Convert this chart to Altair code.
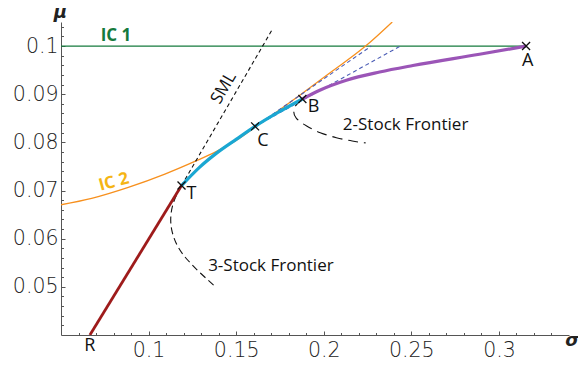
import altair as alt
import pandas as pd

# ---------------- data ----------------
# indifference curve 1 (horizontal)
ic1_sigma = [0.05, 0.3155]
ic1_mu = [0.1, 0.1]
# indifference curve 2
ic2_sigma = [0.05, 0.0675, 0.0884, 0.1093, 0.1264, 0.1388, 0.1502, 0.1608, 0.1863, 0.2034, 0.2239, 0.2391]
ic2_mu = [0.06705, 0.06838, 0.07066, 0.07342, 0.07605, 0.07813, 0.08047, 0.08316, 0.0898, 0.0944, 0.1, 0.105]
# efficient frontier T -> C -> B (cyan)
tcb_sigma = [0.1188, 0.1292, 0.1388, 0.1502, 0.1608, 0.1749, 0.1878]
tcb_mu = [0.07103, 0.07487, 0.07777, 0.08068, 0.08333, 0.08642, 0.08901]
# 2-stock frontier B -> A (purple)
ba_sigma = [0.1878, 0.1977, 0.2129, 0.2319, 0.2509, 0.2889, 0.3155]
ba_mu = [0.08901, 0.09084, 0.09291, 0.09461, 0.09596, 0.0983, 0.1]
# capital market line R -> T
rt_sigma = [0.0665, 0.1188]
rt_mu = [0.04, 0.07103]
# SML
sml_sigma = [0.1188, 0.1707]
sml_mu = [0.07103, 0.1035]
# blue dashed lines from C
blue1_sigma = [0.1608, 0.2271]
blue1_mu = [0.08333, 0.1]
blue2_sigma = [0.1608, 0.2437]
blue2_mu = [0.08333, 0.1]
# lower branches of the frontiers (dashed)
f3_sigma = [0.1188, 0.1144, 0.1124, 0.1127, 0.1161, 0.1217, 0.1292, 0.1388]
f3_mu = [0.07103, 0.06813, 0.06502, 0.06191, 0.05839, 0.05569, 0.05293, 0.04982]
f2_sigma = [0.1878, 0.1834, 0.1826, 0.1834, 0.1901, 0.1977, 0.2072, 0.2166, 0.2239]
f2_mu = [0.08901, 0.08762, 0.08638, 0.08507, 0.08333, 0.08196, 0.08092, 0.08022, 0.07989]

# marked portfolios
pt_sigma = [0.1188, 0.1608, 0.1878, 0.3155]
pt_mu = [0.07103, 0.08333, 0.08901, 0.1]

# point letters
letters = ["T", "C", "B", "A", "R"]
letter_sigma = [0.1245, 0.1652, 0.1942, 0.3164, 0.0665]
letter_mu = [0.06938, 0.08026, 0.08731, 0.09685, 0.03776]

frontier_labels = ["2-Stock Frontier", "3-Stock Frontier"]
frontier_sigma = [0.2109, 0.134]
frontier_mu = [0.08368, 0.0543]

# axis symbols
axis_symbols = ["μ", "σ"]
axis_sym_sigma = [0.0497, 0.3419]
axis_sym_mu = [0.10587, 0.0378]

x_labels = [0.1, 0.15, 0.2, 0.25, 0.3]
y_labels = [0.05, 0.06, 0.07, 0.08, 0.09, 0.1]
x_ticks = [round(0.05 + 0.01 * i, 2) for i in range(1, 29)]
y_ticks = [round(0.04 + 0.002 * i, 3) for i in range(1, 33)]

W, H = 508, 313


def frame(sig, mu):
    return pd.DataFrame({"s": sig, "m": mu, "o": list(range(len(sig)))})


xs = alt.Scale(domain=[0.05, 0.34], nice=False, zero=False)
ys = alt.Scale(domain=[0.04, 0.105], nice=False, zero=False)

LABEL_FONT = "DejaVu Sans"
ANNOT_FONT = "Open Sans"

x_main = alt.Axis(values=x_labels, format="~g", ticks=False, grid=False,
                  domainColor="#555555", domainWidth=1,
                  labelFont=LABEL_FONT, labelFontSize=20.5, labelFontWeight=200,
                  labelColor="#222222",
                  labelPadding=5, labelFlush=False, labelOverlap=False,
                  title=None)
y_main = alt.Axis(values=y_labels, format="~g", ticks=False, grid=False,
                  domainColor="#555555", domainWidth=1,
                  labelFont=LABEL_FONT, labelFontSize=20.5, labelFontWeight=200,
                  labelColor="#222222",
                  labelPadding=3, labelFlush=False, labelOverlap=False,
                  title=None)
x_tick_axis = alt.Axis(orient="top", offset=-H, values=x_ticks, labels=False,
                       domain=False, grid=False, ticks=True,
                       tickColor="#555555", tickWidth=1,
                       tickSize={"condition": {"test": "abs(datum.value*20 - round(datum.value*20)) < 0.001",
                                               "value": 4}, "value": 2.5},
                       title=None)
y_tick_axis = alt.Axis(orient="right", offset=-W, values=y_ticks, labels=False,
                       domain=False, grid=False, ticks=True,
                       tickColor="#555555", tickWidth=1,
                       tickSize={"condition": {"test": "abs(datum.value*100 - round(datum.value*100)) < 0.001",
                                               "value": 4}, "value": 2.5},
                       title=None)


def line(df, color, width, dash=None, interp="linear", xaxis=None, yaxis=None):
    kw = dict(color=color, strokeWidth=width, interpolate=interp, clip=True)
    if dash:
        kw["strokeDash"] = dash
    return alt.Chart(df).mark_line(**kw).encode(
        x=alt.X("s:Q", scale=xs, axis=xaxis),
        y=alt.Y("m:Q", scale=ys, axis=yaxis),
        order=alt.Order("o:Q"),
    )


layers = [
    line(frame(ic1_sigma, ic1_mu), "#157a3c", 1.4, xaxis=x_main, yaxis=y_main),
    line(frame(ic2_sigma, ic2_mu), "#f7901e", 1.3, interp="monotone",
         xaxis=x_tick_axis, yaxis=y_tick_axis),
    line(frame(sml_sigma, sml_mu), "#111111", 1.1, dash=[4, 3]),
    line(frame(blue1_sigma, blue1_mu), "#4a5cb5", 1.1, dash=[4, 3]),
    line(frame(blue2_sigma, blue2_mu), "#4a5cb5", 1.1, dash=[4, 3]),
    line(frame(f3_sigma, f3_mu), "#111111", 1.1, dash=[7, 4], interp="basis"),
    line(frame(f2_sigma, f2_mu), "#111111", 1.1, dash=[10, 6], interp="basis"),
    line(frame(rt_sigma, rt_mu), "#9e1b1b", 2.8),
    line(frame(tcb_sigma, tcb_mu), "#1aa7d2", 3.2, interp="monotone"),
    line(frame(ba_sigma, ba_mu), "#9b55b7", 3.2, interp="monotone"),
]

pts = alt.Chart(frame(pt_sigma, pt_mu)).mark_point(
    shape="M-1,-1L1,1M-1,1L1,-1", size=64, filled=False, stroke="#111111",
    strokeWidth=1.3, opacity=1
).encode(x=alt.X("s:Q", scale=xs, axis=None), y=alt.Y("m:Q", scale=ys, axis=None))


def text_layer(texts, sig, mu, **kw):
    df = pd.DataFrame({"t": texts, "s": sig, "m": mu})
    return alt.Chart(df).mark_text(**kw).encode(
        x=alt.X("s:Q", scale=xs, axis=None),
        y=alt.Y("m:Q", scale=ys, axis=None),
        text="t:N",
    )


letter_layer = text_layer(letters, letter_sigma, letter_mu, font=ANNOT_FONT, fontSize=18,
                          color="#111111", align="center", baseline="middle")
fr_layer = text_layer(frontier_labels, frontier_sigma, frontier_mu, font=ANNOT_FONT,
                      fontSize=17, color="#111111", align="left", baseline="middle")
sml_layer = text_layer(["SML"], [0.1429], [0.0913], font=ANNOT_FONT, fontSize=17,
                       color="#111111", align="center", baseline="middle", angle=300)
ic1_layer = text_layer(["IC 1"], [0.0814], [0.10214], font=ANNOT_FONT, fontSize=17,
                       fontWeight="bold", color="#157a3c", align="center", baseline="middle")
ic2_layer = text_layer(["IC 2"], [0.0802], [0.07176], font=ANNOT_FONT, fontSize=17,
                       fontWeight="bold", color="#f5b514", align="center",
                       baseline="middle", angle=345)
sym_layer = text_layer(axis_symbols, axis_sym_sigma, axis_sym_mu, font="DejaVu Sans",
                       fontSize=18, fontStyle="italic", fontWeight="bold",
                       color="#222222", align="center", baseline="alphabetic")

chart = alt.layer(
    *layers, pts, letter_layer, fr_layer, sml_layer, ic1_layer, ic2_layer, sym_layer
).properties(
    width=W, height=H,
    autosize=alt.AutoSizeParams(type="none"),
    padding={"left": 53, "top": 14, "right": 9, "bottom": 26},
).resolve_axis(x="independent", y="independent").configure_view(strokeWidth=0)

chart.save("out.html", embed_options={"renderer": "svg", "actions": False})
